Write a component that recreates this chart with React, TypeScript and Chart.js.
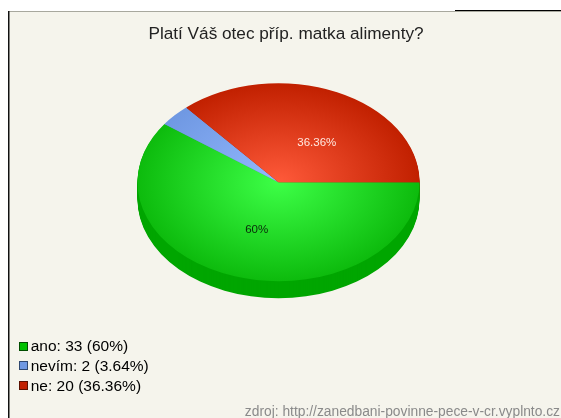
import React, { useEffect, useRef } from "react";
import { Chart, registerables } from "chart.js";

Chart.register(...registerables);

const categories = ["ano", "nevím", "ne"];
const counts = [33, 2, 20];
const percents = ["60%", "3.64%", "36.36%"];
const sliceLabels = ["60%", "", "36.36%"];
const labelColors = ["#0a2a0a", "#000000", "#ffe8e0"];
const labelNudges = [[0, 1], [0, 0], [9, 6]];
const innerColors = ["#3dff47", "#93b8ff", "#ff5a3a"];
const outerColors = ["#0dbb0d", "#6f98e2", "#c12000"];
const sideColors = ["#00a600", "#5a7fc0", "#a01a00"];
const swatchColors = ["#00c000", "#6f98e2", "#c12000"];
const swatchBorders = ["#004d00", "#2f4870", "#5a1000"];
const chartTitle = "Platí Váš otec příp. matka alimenty?";
const sourceNote = "zdroj: http://zanedbani-povinne-pece-v-cr.vyplnto.cz";

const FONT = "'Liberation Sans', Arial, sans-serif";
const SQUASH = 0.702;
const DEPTH = 17;

const piePlugin = {
  id: "squashedPie",
  beforeDraw(chart: any) {
    const { ctx, width, height } = chart;
    ctx.save();
    ctx.fillStyle = "#ffffff";
    ctx.fillRect(0, 0, width, height);
    ctx.fillStyle = "#f5f4ec";
    ctx.fillRect(8, 11, width - 8, height - 11);
    ctx.fillStyle = "#a8a89e";
    ctx.fillRect(8, 11, width - 8, 1);
    ctx.fillStyle = "#000000";
    ctx.fillRect(455, 10, width - 455, 1);
    ctx.fillStyle = "#111111";
    ctx.fillRect(8, 11, 1.5, height - 11);
    ctx.restore();
  },
  afterLayout(chart: any) {
    if (chart.titleBlock) {
      chart.titleBlock.left += 8;
      chart.titleBlock.right += 8;
      chart.titleBlock.top += 2;
      chart.titleBlock.bottom += 2;
    }
    const sub = chart.boxes.find((b: any) => b.options && b.options.text === sourceNote);
    if (sub) {
      sub.left += 4;
      sub.right += 4;
      sub.top += 1;
      sub.bottom += 1;
    }
    if (chart.legend) {
      chart.legend.left = 13;
      chart.legend.right = 160;
      chart.legend.top = 334.5;
      chart.legend.bottom = 418;
    }
  },
  beforeDatasetDraw(chart: any) {
    const { ctx } = chart;
    const arcs = chart.getDatasetMeta(0).data;
    const cx = arcs[0].x;
    const cy = arcs[0].y;
    ctx.save();
    ctx.translate(cx, cy);
    ctx.scale(1, SQUASH);
    ctx.translate(-cx, -cy);
    for (let i = arcs.length - 1; i >= 0; i--) {
      const arc = arcs[i];
      ctx.fillStyle = sideColors[i];
      for (let d = DEPTH; d >= 1; d--) {
        const off = d / SQUASH;
        ctx.beginPath();
        ctx.moveTo(cx, cy + off);
        ctx.arc(cx, cy + off, arc.outerRadius, arc.startAngle, arc.endAngle);
        ctx.closePath();
        ctx.fill();
      }
    }
  },
  afterDatasetDraw(chart: any) {
    const { ctx } = chart;
    ctx.restore();
    const arcs = chart.getDatasetMeta(0).data;
    ctx.save();
    ctx.font = `11.5px ${FONT}`;
    ctx.textAlign = "center";
    ctx.textBaseline = "middle";
    arcs.forEach((arc: any, i: number) => {
      if (!sliceLabels[i]) return;
      const mid = (arc.startAngle + arc.endAngle) / 2;
      const r = arc.outerRadius / 2;
      ctx.fillStyle = labelColors[i];
      ctx.fillText(
        sliceLabels[i],
        arc.x + Math.cos(mid) * r + labelNudges[i][0],
        arc.y + Math.sin(mid) * r * SQUASH + labelNudges[i][1]
      );
    });
    ctx.restore();
  },
  afterDraw(chart: any) {
    const { ctx, legend } = chart;
    if (!legend) return;
    ctx.save();
    categories.forEach((_, i) => {
      const y = Math.round(legend.top + 7 + i * 19.8) + 0.5;
      ctx.fillStyle = swatchColors[i];
      ctx.strokeStyle = swatchBorders[i];
      ctx.lineWidth = 1;
      ctx.fillRect(19.5, y, 8, 8);
      ctx.strokeRect(19.5, y, 8, 8);
    });
    ctx.restore();
  },
};

export default function App() {
  const ref = useRef<HTMLCanvasElement>(null);
  useEffect(() => {
    const chart = new Chart(ref.current!, {
      type: "pie",
      data: {
        labels: categories,
        datasets: [
          {
            data: counts,
            borderWidth: 0,
            backgroundColor: (c: any) => {
              const { chart: ch, dataIndex } = c;
              const area = ch.chartArea;
              if (!area || dataIndex === undefined) return outerColors[dataIndex ?? 0];
              const cx = (area.left + area.right) / 2;
              const cy = (area.top + area.bottom) / 2;
              const R = Math.min(area.width, area.height) / 2;
              const g = ch.ctx.createRadialGradient(cx, cy, 0, cx, cy, R);
              g.addColorStop(0, innerColors[dataIndex]);
              g.addColorStop(1, outerColors[dataIndex]);
              return g;
            },
          },
        ],
      },
      options: {
        responsive: false,
        animation: false,
        events: [],
        rotation: 90,
        layout: { padding: { left: 0, right: 5, top: 0, bottom: 0 } },
        plugins: {
          title: {
            display: true,
            text: chartTitle,
            color: "#222222",
            font: { family: FONT, size: 17.2, weight: "normal", lineHeight: 1 },
            padding: { top: 24, bottom: 0 },
          },
          subtitle: {
            display: true,
            position: "bottom",
            align: "end",
            text: sourceNote,
            color: "#8a8a8a",
            font: { family: FONT, size: 13.8, weight: "normal", lineHeight: 1 },
            padding: { top: 81, bottom: 0 },
          },
          legend: {
            display: true,
            position: "left",
            align: "start",
            maxWidth: 1,
            labels: {
              boxWidth: 5.5,
              boxHeight: 9,
              padding: 4.5,
              color: "#222222",
              font: { family: FONT, size: 15.5 },
              generateLabels: () =>
                categories.map((name, i) => ({
                  text: `${name}: ${counts[i]} (${percents[i]})`,
                  fillStyle: "rgba(0,0,0,0)",
                  strokeStyle: "rgba(0,0,0,0)",
                  lineWidth: 0,
                  hidden: false,
                  index: i,
                })),
            },
          },
          tooltip: { enabled: false },
        },
      },
      plugins: [piePlugin],
    } as any);
    return () => chart.destroy();
  }, []);
  return (
    <canvas
      ref={ref}
      width={561}
      height={418}
      style={{ position: "absolute", left: 0, top: 0, display: "block", filter: "blur(0.4px)" }}
    />
  );
}
